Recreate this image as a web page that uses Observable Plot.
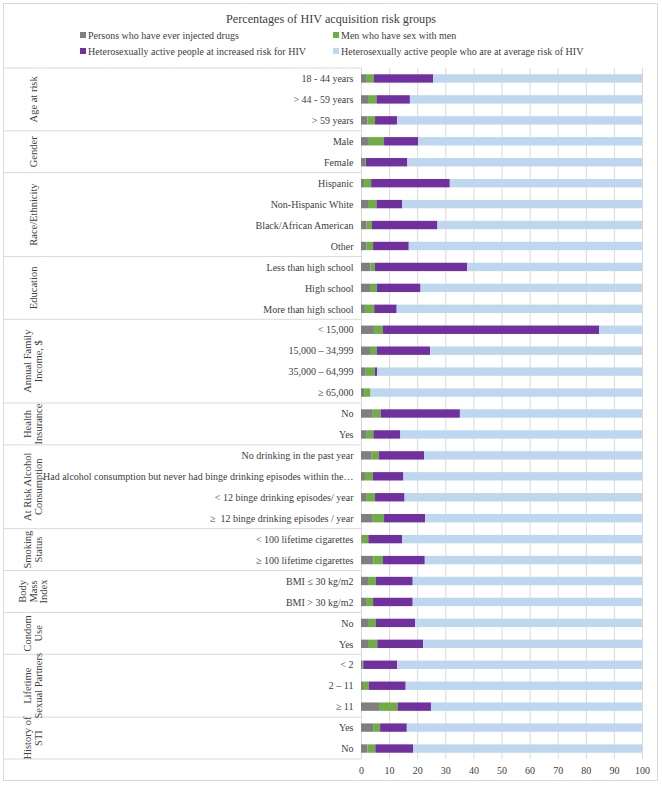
<!DOCTYPE html>
<html>
<head>
<meta charset="utf-8">
<script src="https://cdn.jsdelivr.net/npm/d3@7"></script>
<script src="https://cdn.jsdelivr.net/npm/@observablehq/plot@0.6"></script>
<style>
  body { margin: 0; background: #fff; font-family: "Liberation Serif", "Times New Roman", serif; color: #404040; }
  #border { position: absolute; left: 3px; top: 3px; width: 653px; height: 776px; border: 1px solid #d9d9d9; }
  #title { position: absolute; left: 0; width: 662px; top: 12px; text-align: center; font-size: 12.2px; color: #404040; }
  .leg { position: absolute; font-size: 10px; white-space: nowrap; line-height: 12px; color: #404040; }
  .leg span.sw { display: inline-block; width: 6px; height: 6px; margin-right: 2px; vertical-align: 1px; }
  #chart { position: absolute; left: 0; top: 60px; }
</style>
</head>
<body>
<div id="border"></div>
<div id="title"></div>
<div id="legend"></div>
<div id="chart"></div>
<script>
const chartTitle = "Percentages of HIV acquisition risk groups";
const series = [
  "Persons who have ever injected drugs",
  "Men who have sex with men",
  "Heterosexually active people at increased risk for HIV",
  "Heterosexually active people who are at average risk of HIV"
];
const colors = ["#7f7f7f", "#70ad47", "#7030a0", "#bdd7ee"];

const groupLines = [
  ["Age at risk"],
  ["Gender"],
  ["Race/Ethnicity"],
  ["Education"],
  ["Annual Family", "Income, $"],
  ["Health", "Insurance"],
  ["At Risk Alcohol", "Consumption"],
  ["Smoking", "Status"],
  ["Body", "Mass", "Index"],
  ["Condom", "Use"],
  ["Lifetime", "Sexual Partners"],
  ["History of", "STI"]
];

const categories = [
  "18 - 44 years", "> 44 - 59 years", "> 59 years",
  "Male", "Female",
  "Hispanic", "Non-Hispanic White", "Black/African American", "Other",
  "Less than high school", "High school", "More than high school",
  "< 15,000", "15,000 – 34,999", "35,000 – 64,999", "≥ 65,000",
  "No", "Yes",
  "No drinking in the past year", "Had alcohol consumption but never had binge drinking episodes within the…", "< 12 binge drinking episodes/ year", "≥  12 binge drinking episodes / year",
  "< 100 lifetime cigarettes", "≥ 100 lifetime cigarettes",
  "BMI ≤ 30 kg/m2", "BMI > 30 kg/m2",
  "No", "Yes",
  "< 2", "2 – 11", "≥ 11",
  "Yes", "No"
];
const categoryGroup = [0,0,0, 1,1, 2,2,2,2, 3,3,3, 4,4,4,4, 5,5, 6,6,6,6, 7,7, 8,8, 9,9, 10,10,10, 11,11];

const injectedDrugs   = [1.8,2.5,2.3, 2.8,1.5, 1.1,2.5,2.0,2.0, 3.4,3.2,1.4, 4.6,3.2,1.7,1.1, 4.2,1.8, 3.8,1.4,1.8,4.2, 0.2,4.4, 2.5,1.8, 2.5,2.5, 0.4,0.7,6.4, 4.3,2.3];
const msm             = [2.8,3.0,2.7, 5.4,0.2, 2.5,3.0,1.9,2.3, 1.5,2.4,3.3, 3.2,2.4,3.2,2.3, 2.8,2.6, 2.5,2.8,3.2,4.0, 2.4,3.4, 2.8,2.5, 2.8,3.3, 0.4,2.0,6.6, 2.5,2.8];
const heteroIncreased = [21.1,11.9,7.8, 12.1,14.8, 28.0,9.1,23.3,12.7, 32.9,15.6,8.0, 77.0,19.0,0.8,0.0, 28.2,9.6, 16.2,10.9,10.5,14.6, 12.0,14.9, 13.1,14.1, 14.0,16.3, 12.1,13.2,11.9, 9.5,13.5];
const heteroAverage   = [74.3,82.6,87.2, 79.7,83.5, 68.4,85.4,72.8,83.0, 62.2,78.8,87.3, 15.2,75.4,94.3,96.6, 64.8,86.0, 77.5,84.9,84.5,77.2, 85.4,77.3, 81.6,81.6, 80.7,77.9, 87.1,84.1,75.1, 83.7,81.4];
const xTicks = [0,10,20,30,40,50,60,70,80,90,100];

// title & legend
document.getElementById("title").textContent = chartTitle;
const legPos = [[80,30],[333,30],[80,46],[333,46]];
const legendDiv = document.getElementById("legend");
series.forEach((s, i) => {
  const d = document.createElement("div");
  d.className = "leg";
  d.style.left = legPos[i][0] + "px";
  d.style.top = legPos[i][1] + "px";
  d.innerHTML = `<span class="sw" style="background:${colors[i]}"></span>`;
  d.appendChild(document.createTextNode(s));
  legendDiv.appendChild(d);
});

// data table
const keys = categories.map((c, i) => i + "|" + c);
const seriesValues = [injectedDrugs, msm, heteroIncreased, heteroAverage];
const table = [];
keys.forEach((k, i) => {
  series.forEach((s, j) => table.push({key: k, series: s, value: seriesValues[j][i]}));
});

const chart = Plot.plot({
  width: 662,
  height: 725,
  marginTop: 8,
  marginBottom: 26,
  marginLeft: 361,
  marginRight: 20,
  style: {fontFamily: '"Liberation Serif", "Times New Roman", serif', fontSize: "10px", color: "#404040", background: "transparent"},
  x: {domain: [0, 100], ticks: xTicks, tickSize: 0, tickPadding: 7, label: null},
  y: {domain: keys, paddingInner: 0.6, paddingOuter: 0.3, align: 0.5, tickSize: 0, tickPadding: 8, label: null,
      tickFormat: k => k.slice(k.indexOf("|") + 1)},
  color: {domain: series, range: colors},
  marks: [
    Plot.ruleX(xTicks, {stroke: "#d9d9d9", strokeWidth: 1}),
    Plot.barX(table, Plot.stackX({x: "value", y: "key", fill: "series", order: series})),
  ]
});
document.getElementById("chart").appendChild(chart);

// left category table: separators and group labels, positioned through the y scale
const yScale = chart.scale("y");
const center = k => yScale.apply(k) + yScale.bandwidth / 2;
const gSel = d3.select(chart).append("g");
const lineColor = "#d9d9d9";
const xLeft = 3, xRight = 361, labelX = 33, lineStep = 10.5;
const topY = center(keys[0]) - yScale.step / 2;
gSel.append("line").attr("x1", xLeft).attr("x2", xRight).attr("y1", topY).attr("y2", topY).attr("stroke", lineColor);
groupLines.forEach((lines, gi) => {
  const idx = categoryGroup.map((v, i) => v === gi ? i : -1).filter(i => i >= 0);
  const c0 = center(keys[idx[0]]), c1 = center(keys[idx[idx.length - 1]]);
  const yb = c1 + yScale.step / 2;
  gSel.append("line").attr("x1", xLeft).attr("x2", xRight).attr("y1", yb).attr("y2", yb).attr("stroke", lineColor);
  const t = gSel.append("text")
    .attr("transform", `translate(${labelX},${(c0 + c1) / 2}) rotate(-90)`)
    .attr("text-anchor", "middle")
    .attr("fill", "#404040")
    .attr("font-size", "10.5px");
  lines.forEach((ln, li) => {
    t.append("tspan").attr("x", 0)
      .attr("y", (li - (lines.length - 1) / 2) * lineStep)
      .attr("dy", "0.35em")
      .text(ln);
  });
});
</script>
</body>
</html>
